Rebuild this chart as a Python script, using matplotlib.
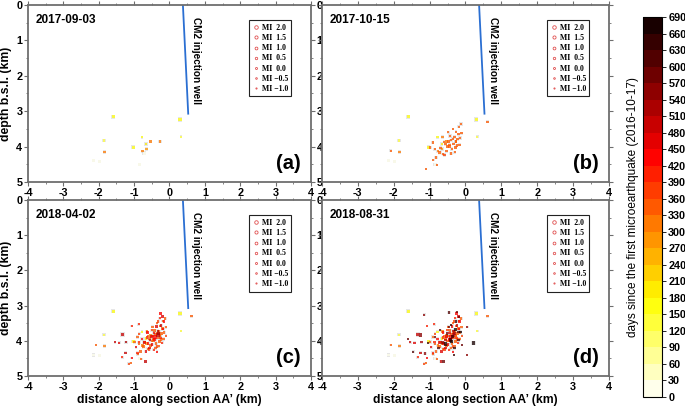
#!/usr/bin/env python3
"""Cumulative depth sections of microearthquakes along AA' at four dates."""
import matplotlib
import numpy as np
import pandas as pd

matplotlib.use("Agg")
import matplotlib.pyplot as plt  # noqa: E402
from matplotlib.colors import BoundaryNorm, ListedColormap  # noqa: E402
from matplotlib.lines import Line2D  # noqa: E402
from matplotlib.ticker import MultipleLocator  # noqa: E402

plt.rcParams["font.family"] = ["Liberation Sans", "DejaVu Sans"]
plt.rcParams["axes.unicode_minus"] = False

FIRST_EVENT = "2016-10-17"
panel_dates = ["2017-09-03", "2017-10-15", "2018-04-02", "2018-08-31"]
panel_tags = ["(a)", "(b)", "(c)", "(d)"]

# well trace (distance km, depth km)
well_x = [0.38, 0.53]
well_depth = [0.0, 3.07]

legend_mags = [2.0, 1.5, 1.0, 0.5, 0.0, -0.5, -1.0]
day_bounds = list(range(0, 691, 30))

# events: (distance km, depth km, magnitude, days since first event)
events_to_sep2017 = [
    (-2.15, 4.40, -0.5, 12), (-1.98, 4.42, -0.5, 18), (-0.85, 4.50, -0.5, 22),
    (-0.72, 4.19, 0.0, 26), (-1.85, 3.83, -0.5, 128), (0.33, 3.72, -1.0, 140),
    (-0.78, 3.74, -1.0, 152), (-1.59, 3.16, 0.0, 163), (0.30, 3.23, 0.5, 168),
    (-1.03, 4.02, 0.0, 172), (-0.66, 3.93, -0.5, 205), (-0.65, 4.07, -0.5, 298),
    (-1.84, 4.15, -0.5, 304), (-0.53, 3.85, -0.5, 309), (-0.77, 4.13, -0.5, 314),
    (-0.27, 3.85, -0.5, 318),
]
events_to_oct2017 = [
    (0.62, 3.30, -0.5, 341), (-2.08, 4.12, -1.0, 350), (-0.12, 3.36, -0.5, 338),
    (-0.19, 3.44, -1.0, 339), (-0.26, 3.58, -1.0, 352), (-0.11, 3.62, -1.0, 344),
    (-0.20, 3.65, -0.5, 347), (-0.48, 3.60, -1.0, 336), (-0.43, 3.70, -0.5, 340),
    (-0.64, 3.73, -0.5, 326), (-0.30, 3.73, -0.5, 342), (-0.22, 3.79, -0.5, 345),
    (-0.40, 3.82, -0.5, 343), (-0.60, 3.86, -1.0, 337), (-0.48, 3.86, -0.5, 339),
    (-0.27, 3.86, -0.5, 346), (-0.56, 3.93, -0.5, 341), (-0.33, 3.92, -0.5, 343),
    (-0.17, 3.95, -0.5, 348), (-0.91, 3.89, -0.5, 334), (-0.99, 4.03, -0.5, 338),
    (-0.70, 4.04, -0.5, 344), (-0.45, 3.99, -0.5, 340), (-0.53, 4.13, -0.5, 342),
    (-0.73, 4.16, -0.5, 345), (-0.30, 4.16, -1.0, 349), (-0.40, 4.20, -0.5, 351),
    (-0.82, 4.31, -0.5, 339), (-0.90, 4.38, -1.0, 343), (-0.80, 4.52, -1.0, 330),
    (-1.10, 4.63, -1.0, 347), (-0.38, 4.07, -0.5, 350), (-0.24, 3.97, -0.5, 353),
    (-0.62, 4.22, -1.0, 346), (-0.35, 3.50, -1.0, 356), (-0.15, 3.76, -0.5, 358),
    (-0.45, 3.95, -0.5, 355), (-0.50, 4.00, -0.5, 344), (-0.28, 4.02, -0.5, 348),
    (-0.36, 3.78, -1.0, 352), (-0.86, 4.08, -1.0, 341), (-0.58, 4.24, -0.5, 360),
]
events_to_apr2018 = [
    (-0.25, 3.22, -0.5, 420), (-0.20, 3.31, -0.5, 470), (-0.16, 3.45, -0.5, 445),
    (-0.32, 3.45, -1.0, 380), (-0.24, 3.57, -0.5, 500), (-0.37, 3.60, -0.5, 455),
    (-0.18, 3.67, -0.5, 430), (-0.87, 3.53, -1.0, 395), (-1.07, 3.58, -1.0, 410),
    (-1.33, 3.82, 0.5, 505), (-0.85, 3.80, -1.0, 380), (-0.62, 3.77, -0.5, 440),
    (-0.44, 3.78, -0.5, 475), (-0.33, 3.83, 0.5, 490), (-0.63, 3.91, -0.5, 415),
    (-0.52, 3.89, 0.0, 460), (-0.33, 3.72, -0.5, 510), (-0.43, 3.97, 0.5, 425),
    (-0.25, 3.92, -0.5, 395), (-1.23, 4.04, -0.5, 520), (-0.86, 4.04, -0.5, 400),
    (-0.72, 4.04, 0.0, 465), (-0.61, 4.08, -0.5, 435), (-0.49, 4.11, -0.5, 450),
    (-0.35, 4.16, -0.5, 385), (-1.54, 4.04, -1.0, 480), (-1.25, 4.34, -0.5, 490),
    (-0.91, 4.35, -0.5, 405), (-0.67, 4.31, -0.5, 455), (-0.56, 4.21, -0.5, 470),
    (-0.35, 4.31, -1.0, 420), (-1.07, 4.49, -1.0, 440), (-0.68, 4.59, -0.5, 500),
    (-1.15, 4.65, -1.0, 380), (-1.33, 4.47, -1.0, 395), (-0.28, 3.36, -1.0, 415),
    (-0.50, 3.70, -1.0, 388), (-0.40, 3.88, 1.0, 448), (-0.30, 3.80, 0.0, 515),
    (-0.55, 3.98, -0.5, 485), (-0.78, 3.95, -0.5, 430), (-0.95, 4.18, -1.0, 465),
    (-0.20, 4.05, -1.0, 400), (-0.10, 3.85, -1.0, 375), (-1.42, 4.05, -1.0, 455),
    (-0.45, 4.25, -1.0, 390),
]
events_to_aug2018 = [
    (0.23, 4.06, 0.5, 670), (-0.26, 3.45, -0.5, 640), (-0.19, 3.75, -0.5, 600),
    (-0.35, 3.89, 0.0, 655), (-0.47, 3.61, -1.0, 580), (-0.20, 3.98, -0.5, 620),
    (-0.39, 4.02, 0.5, 660), (-0.51, 3.79, -0.5, 570), (-1.26, 3.83, 0.5, 545),
    (-1.04, 4.05, -1.0, 650), (-1.45, 4.31, -1.0, 610), (-1.13, 4.36, -0.5, 560),
    (-0.61, 4.59, -0.5, 590), (-0.32, 4.40, -1.0, 630), (0.04, 4.40, -1.0, 545),
    (0.05, 3.61, -1.0, 550), (-1.15, 3.26, -1.0, 540), (-0.46, 3.20, -0.5, 600),
    (-0.56, 4.09, 0.5, 675), (-0.42, 3.98, 0.5, 640), (-0.28, 3.68, 0.0, 680),
    (-0.14, 3.75, -0.5, 665), (-0.63, 4.06, 0.0, 560), (-0.24, 3.18, -1.0, 575),
    (-0.19, 3.32, -1.0, 590), (-0.75, 4.20, -0.5, 615), (-0.85, 3.90, -1.0, 595),
    (-1.60, 3.95, -1.0, 585), (-0.30, 4.20, -0.5, 645), (-0.70, 3.70, -1.0, 625),
    (-0.40, 3.55, -1.0, 655), (-0.10, 4.12, -1.0, 575),
]

FRAME = "#6e6e6e"


def marker_area(mag):
    # side length in points grows with magnitude
    d = 1.5 + 0.65 * (np.asarray(mag) + 1.0)
    return d ** 2


def style_axes(ax, left_labels, right_labels):
    ax.set_xlim(-4, 4)
    ax.set_ylim(5, 0)
    ax.xaxis.set_major_locator(MultipleLocator(1))
    ax.xaxis.set_minor_locator(MultipleLocator(0.5))
    ax.yaxis.set_major_locator(MultipleLocator(1))
    ax.yaxis.set_minor_locator(MultipleLocator(0.5))
    ax.tick_params(which="both", direction="out", color=FRAME, top=True, right=True,
                   labelleft=left_labels, labelright=right_labels, labelsize=7.8, pad=1.0)
    ax.tick_params(which="major", length=3, width=0.8)
    ax.tick_params(which="minor", length=1.6, width=0.6)
    for lab in ax.get_xticklabels() + ax.get_yticklabels():
        lab.set_fontweight("bold")
    for sp in ax.spines.values():
        sp.set_color(FRAME)
        sp.set_linewidth(1.3)


def main():
    cat = pd.DataFrame(events_to_sep2017 + events_to_oct2017 + events_to_apr2018 + events_to_aug2018,
                       columns=["x", "depth", "mag", "day"])
    t0 = pd.Timestamp(FIRST_EVENT)
    cutoffs = [(pd.Timestamp(d) - t0).days for d in panel_dates]

    nb = len(day_bounds) - 1
    cmap = ListedColormap(plt.get_cmap("hot_r")((np.arange(nb) + 0.5) / nb))
    norm = BoundaryNorm(day_bounds, nb)

    fig = plt.figure(figsize=(6.85, 4.09), dpi=100)
    rects = [[0.0409, 0.555, 0.413, 0.4328], [0.470, 0.555, 0.419, 0.4328],
             [0.0409, 0.0807, 0.413, 0.430], [0.470, 0.0807, 0.419, 0.430]]
    leg_handles = [Line2D([], [], ls="none", marker="o", mfc="none", mec="#e05050", mew=0.6,
                          ms=0.9 + 0.55 * (m + 1.0)) for m in legend_mags]
    leg_labels = [f"MI{m:5.1f}".replace("-", "\u2212") for m in legend_mags]

    for i, (rect, date, tag, cut) in enumerate(zip(rects, panel_dates, panel_tags, cutoffs)):
        ax = fig.add_axes(rect)
        left = i % 2 == 0
        style_axes(ax, left_labels=left, right_labels=left)
        sub = cat[cat.day <= cut].sort_values("day")
        # faint grey rim so the near-white early events stay visible
        ax.scatter(sub.x, sub.depth, s=marker_area(sub.mag) * 1.7, c="#b8b8b8",
                   marker="s", linewidths=0, alpha=0.35, zorder=3)
        ax.scatter(sub.x, sub.depth, s=marker_area(sub.mag), c=sub.day, cmap=cmap, norm=norm,
                   marker="s", linewidths=0, alpha=0.75, zorder=4)
        ax.plot(well_x, well_depth, color="#2b6fd2", lw=1.3, zorder=2)
        ax.text(0.62, 0.34, "CM2 injection well", rotation=-90, ha="left", va="top",
                fontsize=7.2, fontweight="bold")
        ax.text(-3.78, 0.42, date, ha="left", va="center", fontsize=8.5, fontweight="bold")
        ax.text(3.72, 4.62, tag, ha="right", va="baseline", fontsize=14.5, fontweight="bold")
        leg = ax.legend(leg_handles, leg_labels, loc="upper right", bbox_to_anchor=(0.945, 0.935),
                        prop={"family": "Liberation Serif", "weight": "bold", "size": 5.6},
                        frameon=True, fancybox=False, edgecolor="#222222", framealpha=1,
                        handlelength=0.9, handletextpad=0.3, labelspacing=0.28, borderpad=0.45)
        leg.get_frame().set_linewidth(0.8)
        if left:
            ax.set_ylabel("depth b.s.l. (km)", fontsize=8.8, fontweight="bold")
            ax.yaxis.set_label_coords(-0.058, 0.5)
        if i >= 2:
            ax.set_xlabel("distance along section AA\u2019 (km)", fontsize=8.8, fontweight="bold")
            ax.xaxis.set_label_coords(0.5, -0.105)

    cax = fig.add_axes([0.9387, 0.0293, 0.0277, 0.929])
    sm = plt.cm.ScalarMappable(cmap=cmap, norm=norm)
    cb = fig.colorbar(sm, cax=cax, boundaries=day_bounds, ticks=day_bounds)
    cb.outline.set_linewidth(0.8)
    cb.ax.tick_params(direction="out", length=3, width=0.6, labelsize=7.8, pad=1.5)
    for lab in cb.ax.get_yticklabels():
        lab.set_fontweight("bold")
    cb.set_label("days since the first microearthquake (2016-10-17)", fontsize=8.5)
    cb.ax.yaxis.set_label_position("left")
    cb.ax.yaxis.labelpad = 3

    fig.savefig("out.png", dpi=100)
    plt.close(fig)


if __name__ == "__main__":
    main()
